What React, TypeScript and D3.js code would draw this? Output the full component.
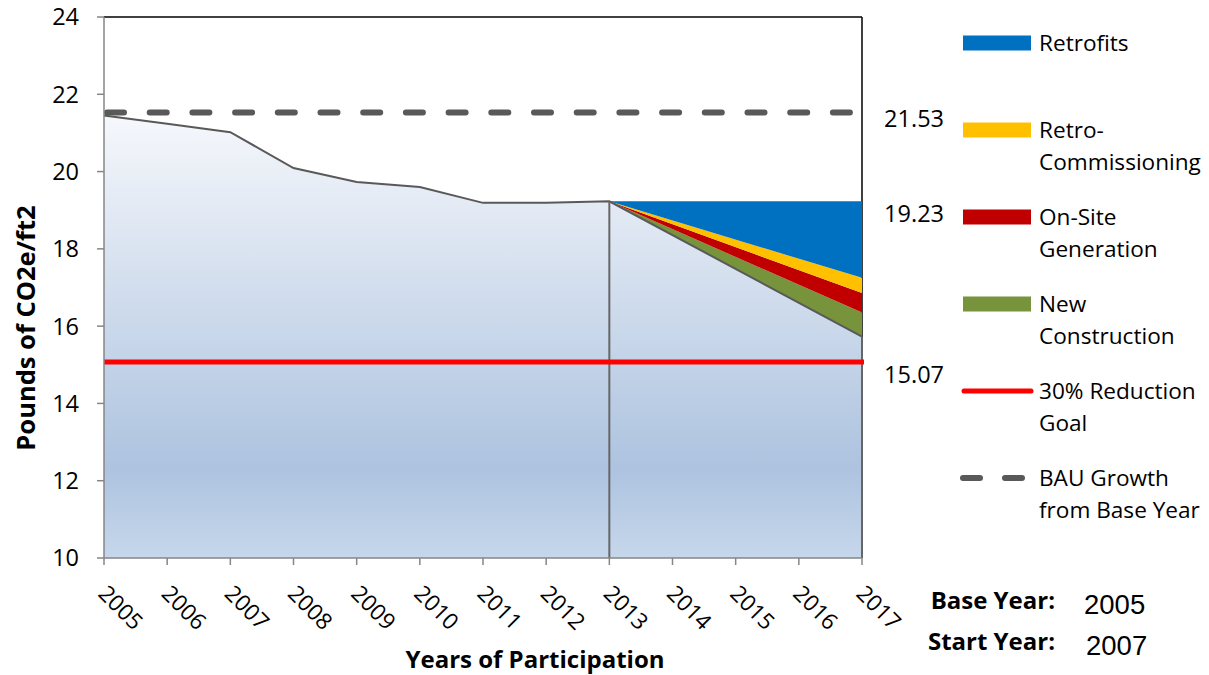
import React from "react";
import * as d3 from "d3";

const years = [2005, 2006, 2007, 2008, 2009, 2010, 2011, 2012, 2013, 2014, 2015, 2016, 2017];
const actualYears = [2005, 2006, 2007, 2008, 2009, 2010, 2011, 2012, 2013];
const actualValues = [21.45, 21.24, 21.02, 20.09, 19.73, 19.6, 19.19, 19.19, 19.23];
const projYears = [2013, 2017];
const projectedValues = [19.23, 15.73];
const newConstruction = [0, 0.62];
const onSiteGeneration = [0, 0.51];
const retroCommissioning = [0, 0.39];
const retrofits = [0, 1.98];
const bauValue = 21.53;
const goalValue = 15.07;
const startLabelValue = 19.23;
const yTicks = [10, 12, 14, 16, 18, 20, 22, 24];
const wedgeNames = ["New Construction", "On-Site Generation", "Retro-Commissioning", "Retrofits"];
const wedgeColors = ["#77933c", "#c00000", "#ffc000", "#0070c0"];

const FONT = "'Open Sans', sans-serif";

export default function App() {
  const x = d3.scaleLinear().domain([2005, 2017]).range([104, 862]);
  const y = d3.scaleLinear().domain([10, 24]).range([558, 17]);

  const fullYears = [...actualYears, projYears[1]];
  const fullValues = [...actualValues, projectedValues[1]];
  const pts = fullYears.map((yr, i) => ({ yr, v: fullValues[i] }));

  const areaGen = d3
    .area<{ yr: number; v: number }>()
    .x((d) => x(d.yr))
    .y0(y(10))
    .y1((d) => y(d.v));
  const lineGen = d3
    .line<{ yr: number; v: number }>()
    .x((d) => x(d.yr))
    .y((d) => y(d.v));

  const wedgeSeries = [newConstruction, onSiteGeneration, retroCommissioning, retrofits];
  const layers: { lo: number[]; hi: number[] }[] = [];
  let cum = projectedValues.slice();
  wedgeSeries.forEach((s) => {
    const hi = cum.map((c, i) => c + s[i]);
    layers.push({ lo: cum, hi });
    cum = hi;
  });
  const wedgeArea = (l: { lo: number[]; hi: number[] }) =>
    d3
      .area<number>()
      .x((_, i) => x(projYears[i]))
      .y0((_, i) => y(l.lo[i]))
      .y1((_, i) => y(l.hi[i]))(projYears.map((_, i) => i)) as string;

  const legendItems = [
    { type: "rect", color: wedgeColors[3], lines: ["Retrofits"], y: 43 },
    { type: "rect", color: wedgeColors[2], lines: ["Retro-", "Commissioning"], y: 130 },
    { type: "rect", color: wedgeColors[1], lines: ["On-Site", "Generation"], y: 217 },
    { type: "rect", color: wedgeColors[0], lines: ["New", "Construction"], y: 304 },
    { type: "line", color: "#ff0000", lines: ["30% Reduction", "Goal"], y: 391 },
    { type: "dash", color: "#595959", lines: ["BAU Growth", "from Base Year"], y: 478 },
  ];

  return (
    <svg width={1209} height={675} style={{ display: "block", position: "absolute", left: 0, top: 0, background: "#fff" }}>
      <defs>
        <linearGradient id="fillGradU" x1="0" y1={y(bauValue)} x2="0" y2={y(10)} gradientUnits="userSpaceOnUse">
          <stop offset="0" stopColor="#f6f8fc" />
          <stop offset="0.8" stopColor="#adc3df" />
          <stop offset="1" stopColor="#c6d7eb" />
        </linearGradient>
      </defs>

      {/* plot border top & right */}
      <line x1={x(2005)} x2={x(2017)} y1={y(24)} y2={y(24)} stroke="#000" strokeWidth={1.5} />
      <line x1={x(2017)} x2={x(2017)} y1={y(24)} y2={y(10)} stroke="#000" strokeWidth={1.5} />

      {/* main filled area */}
      <path d={areaGen(pts) as string} fill="url(#fillGradU)" />

      {/* wedges */}
      {layers.map((l, i) => (
        <path key={wedgeNames[i]} d={wedgeArea(l)} fill={wedgeColors[i]} />
      ))}

      {/* series outline */}
      <path d={lineGen(pts) as string} fill="none" stroke="#595959" strokeWidth={2} />
      <line x1={x(2013)} x2={x(2013)} y1={y(startLabelValue)} y2={y(10)} stroke="#666" strokeWidth={2} />
      <line x1={x(2017)} x2={x(2017)} y1={y(projectedValues[1])} y2={y(10)} stroke="#666" strokeWidth={2} />

      {/* goal line */}
      <line x1={x(2005)} x2={x(2017) + 2} y1={y(goalValue)} y2={y(goalValue)} stroke="#ff0000" strokeWidth={5} />

      {/* BAU dashed line */}
      <line
        x1={x(2005) + 3}
        x2={x(2017) - 3}
        y1={y(bauValue)}
        y2={y(bauValue)}
        stroke="#595959"
        strokeWidth={6}
        strokeLinecap="round"
        strokeDasharray="17,25.7"
      />

      {/* y axis */}
      <line x1={x(2005)} x2={x(2005)} y1={y(24)} y2={y(10)} stroke="#868686" strokeWidth={1.5} />
      {yTicks.map((t) => (
        <g key={t}>
          <line x1={x(2005) - 7} x2={x(2005)} y1={y(t)} y2={y(t)} stroke="#868686" strokeWidth={1.5} />
          <text x={79} y={y(t)} dy="0.36em" textAnchor="end" fontFamily={FONT} fontSize={23.5} fill="#000">
            {t}
          </text>
        </g>
      ))}

      {/* x axis */}
      <line x1={x(2005)} x2={x(2017)} y1={y(10)} y2={y(10)} stroke="#868686" strokeWidth={1.5} />
      {years.map((yr) => (
        <g key={yr}>
          <line x1={x(yr)} x2={x(yr)} y1={y(10)} y2={y(10) + 7} stroke="#868686" strokeWidth={1.5} />
          <text
            transform={`translate(${x(yr) - 7},${595}) rotate(45)`}
            fontFamily={FONT}
            fontSize={22.5}
            fill="#000"
          >
            {yr}
          </text>
        </g>
      ))}

      {/* axis titles */}
      <text x={535} y={668} textAnchor="middle" fontFamily={FONT} fontWeight="bold" fontSize={24} fill="#000">
        Years of Participation
      </text>
      <text
        transform={`translate(35,328) rotate(-90)`}
        textAnchor="middle"
        fontFamily={FONT}
        fontWeight="bold"
        fontSize={25.5}
        fill="#000"
      >
        Pounds of CO2e/ft2
      </text>

      {/* right value labels */}
      {[
        { v: bauValue, yy: 127 },
        { v: startLabelValue, yy: 222 },
        { v: goalValue, yy: 383 },
      ].map((d) => (
        <text key={d.v} x={944} y={d.yy} textAnchor="end" fontFamily={FONT} fontSize={23.5} fill="#000">
          {d.v.toFixed(2)}
        </text>
      ))}

      {/* legend */}
      {legendItems.map((it) => (
        <g key={it.lines[0]}>
          {it.type === "rect" && <rect x={963} y={it.y - 7.5} width={68} height={15} fill={it.color} />}
          {it.type === "line" && (
            <line x1={964} x2={1031} y1={it.y} y2={it.y} stroke={it.color} strokeWidth={5} strokeLinecap="round" />
          )}
          {it.type === "dash" && (
            <line
              x1={963}
              x2={1025}
              y1={it.y}
              y2={it.y}
              stroke={it.color}
              strokeWidth={6}
              strokeLinecap="round"
              strokeDasharray="17,25"
            />
          )}
          {it.lines.map((ln, j) => (
            <text key={ln} x={1039} y={it.y + 8 + j * 32} fontFamily={FONT} fontSize={22.6} fill="#000">
              {ln}
            </text>
          ))}
        </g>
      ))}

      {/* base/start year */}
      <text x={1055} y={609} textAnchor="end" fontFamily={FONT} fontWeight="bold" fontSize={24} fill="#000">
        Base Year:
      </text>
      <text x={1084} y={614} fontFamily="'Liberation Sans', Arial, sans-serif" fontSize={27.5} fill="#000">
        {years[0]}
      </text>
      <text x={1055} y={650} textAnchor="end" fontFamily={FONT} fontWeight="bold" fontSize={24} fill="#000">
        Start Year:
      </text>
      <text x={1086} y={655} fontFamily="'Liberation Sans', Arial, sans-serif" fontSize={27.5} fill="#000">
        {years[2]}
      </text>
    </svg>
  );
}
